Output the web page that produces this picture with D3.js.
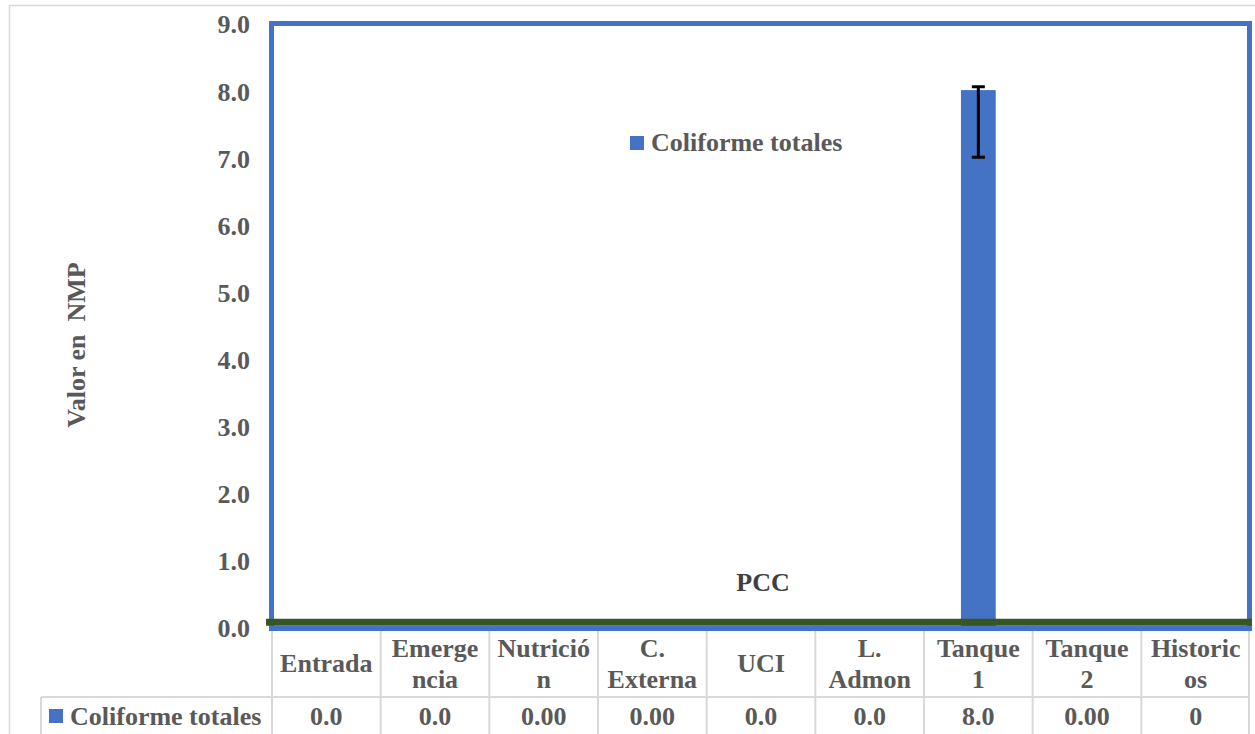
<!DOCTYPE html>
<html>
<head>
<meta charset="utf-8">
<script src="https://cdn.jsdelivr.net/npm/d3@7"></script>
<style>
  body { margin: 0; background: #fff; }
  text { font-family: "Liberation Serif", "Times New Roman", serif; font-weight: bold; }
</style>
</head>
<body>
<script>
// data
const categories = [["Entrada"], ["Emerge", "ncia"], ["Nutrició", "n"], ["C.", "Externa"], ["UCI"],
                    ["L.", "Admon"], ["Tanque", "1"], ["Tanque", "2"], ["Historic", "os"]];
const values = [0, 0, 0, 0, 0, 0, 8.0, 0, 0];
const valueLabels = ["0.0", "0.0", "0.00", "0.00", "0.0", "0.0", "8.0", "0.00", "0"];
const errPlus  = [0, 0, 0, 0, 0, 0, 0.05, 0, 0];
const errMinus = [0, 0, 0, 0, 0, 0, 1.0, 0, 0];
const pccValue = [0.07, 0.07];
const yTicks = [0, 1, 2, 3, 4, 5, 6, 7, 8, 9];
const seriesName = "Coliforme totales";

const W = 1255, H = 734;
const blue = "#4472c4", grid = "#d9d9d9", txt = "#595959";
const plot = {left: 272, right: 1250, top: 23, bottom: 627};

const svg = d3.select("body").append("svg")
    .attr("width", W).attr("height", H);

// chart area border
svg.append("rect")
    .attr("x", 9.5).attr("y", 5.5)
    .attr("width", 1300).attr("height", 800)
    .attr("fill", "none").attr("stroke", grid).attr("stroke-width", 1.5);

const idx = categories.map((d, i) => i);

// table columns
const xCol = d3.scaleBand().domain(idx).range([plot.left, plot.right]).padding(0);
// bars
const xBar = d3.scaleBand().domain(idx).range([plot.left, plot.right])
    .paddingInner(0.68).paddingOuter(0.34);

const y = d3.scaleLinear().domain([0, 9]).range([plot.bottom, plot.top]);

// Y axis labels
const yAxis = svg.append("g")
    .attr("transform", "translate(" + (plot.left - 16) + ",0)")
    .call(d3.axisLeft(y).tickValues(yTicks).tickFormat(d3.format(".1f")).tickSize(0).tickPadding(6));
yAxis.select(".domain").remove();
yAxis.selectAll("text")
    .attr("font-family", "Liberation Serif, serif")
    .attr("font-weight", "bold")
    .attr("font-size", 26)
    .attr("fill", txt)
    .attr("dy", "0.38em");

// Y title
svg.append("text")
    .attr("transform", "translate(85,345) rotate(-90)")
    .attr("text-anchor", "middle")
    .attr("font-size", 26)
    .attr("fill", txt)
    .style("white-space", "pre")
    .text("Valor en  NMP");

// table grid
const tableTop = 629, rowSplit = 697, tableBottom = 760;
const tg = svg.append("g").attr("stroke", grid).attr("stroke-width", 2);
xCol.domain().forEach(i => {
  tg.append("line")
    .attr("x1", xCol(i)).attr("x2", xCol(i))
    .attr("y1", tableTop).attr("y2", tableBottom);
});
tg.append("line").attr("x1", plot.right - 1).attr("x2", plot.right - 1)
    .attr("y1", tableTop).attr("y2", tableBottom);
tg.append("line").attr("x1", 41).attr("x2", plot.right)
    .attr("y1", rowSplit).attr("y2", rowSplit);
tg.append("line").attr("x1", 41).attr("x2", 41)
    .attr("y1", rowSplit).attr("y2", tableBottom);

// header labels
const hdr = svg.append("g").selectAll("text")
    .data(categories).join("text")
    .attr("text-anchor", "middle")
    .attr("font-size", 26)
    .attr("fill", txt)
    .attr("x", (d, i) => xCol(i) + xCol.bandwidth() / 2)
    .attr("y", d => d.length === 1 ? 672 : 657);
hdr.selectAll("tspan")
    .data(d => d).join("tspan")
    .attr("x", function() { return this.parentNode.getAttribute("x"); })
    .attr("dy", (d, i) => i === 0 ? 0 : 31)
    .text(d => d);

// value row
svg.append("g").selectAll("text")
    .data(valueLabels).join("text")
    .attr("text-anchor", "middle")
    .attr("font-size", 26)
    .attr("fill", txt)
    .attr("x", (d, i) => xCol(i) + xCol.bandwidth() / 2)
    .attr("y", 725)
    .text(d => d);

// table legend key
svg.append("rect").attr("x", 49).attr("y", 709).attr("width", 14).attr("height", 14).attr("fill", blue);
svg.append("text").attr("x", 70).attr("y", 725)
    .attr("font-size", 26).attr("fill", txt).text(seriesName);

// bars
svg.append("g").selectAll("rect")
    .data(values).join("rect")
    .attr("x", (d, i) => xBar(i))
    .attr("y", d => y(d))
    .attr("width", xBar.bandwidth())
    .attr("height", d => y(0) - y(d))
    .attr("fill", blue);

// error bars
const eg = svg.append("g").attr("stroke", "#000").attr("stroke-width", 3);
values.forEach((v, i) => {
  if (!errPlus[i] && !errMinus[i]) return;
  const cx = xBar(i) + xBar.bandwidth() / 2;
  const y1 = y(v + errPlus[i]), y2 = y(v - errMinus[i]);
  eg.append("line").attr("x1", cx).attr("x2", cx).attr("y1", y1).attr("y2", y2);
  eg.append("line").attr("x1", cx - 6.5).attr("x2", cx + 6.5).attr("y1", y1).attr("y2", y1);
  eg.append("line").attr("x1", cx - 6.5).attr("x2", cx + 6.5).attr("y1", y2).attr("y2", y2);
});

// plot area border
svg.append("rect")
    .attr("x", plot.left - 0.5).attr("y", plot.top + 0.5)
    .attr("width", plot.right - plot.left).attr("height", plot.bottom - plot.top + 1)
    .attr("fill", "none").attr("stroke", blue).attr("stroke-width", 5);

// PCC line
const pccX = d3.scaleLinear().domain([0, 1]).range([266, 1252]);
svg.append("path")
    .datum(pccValue)
    .attr("fill", "none")
    .attr("stroke", "#375623")
    .attr("stroke-width", 7)
    .attr("d", d3.line().x((d, i) => pccX(i)).y(d => y(d)));
svg.append("text")
    .attr("x", 763).attr("y", 591)
    .attr("text-anchor", "middle")
    .attr("font-size", 26).attr("fill", "#404040")
    .text("PCC");

// legend
svg.append("rect").attr("x", 630).attr("y", 136).attr("width", 14).attr("height", 14).attr("fill", blue);
svg.append("text").attr("x", 651).attr("y", 151)
    .attr("font-size", 26).attr("fill", txt).text(seriesName);
</script>
</body>
</html>
